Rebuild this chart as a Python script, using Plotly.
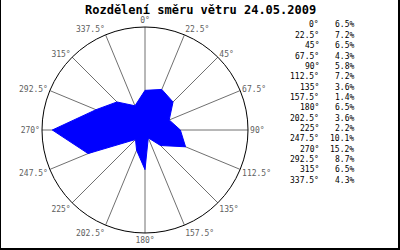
import plotly.graph_objects as go

directions = [0, 22.5, 45, 67.5, 90, 112.5, 135, 157.5, 180, 202.5, 225, 247.5, 270, 292.5, 315, 337.5]
dir_labels = ["0°", "22.5°", "45°", "67.5°", "90°", "112.5°", "135°", "157.5°",
              "180°", "202.5°", "225°", "247.5°", "270°", "292.5°", "315°", "337.5°"]
percent = [6.5, 7.2, 6.5, 4.3, 5.8, 7.2, 3.6, 1.4, 6.5, 3.6, 2.2, 10.1, 15.2, 8.7, 6.5, 4.3]
title_text = "Rozdělení směru větru 24.05.2009"

W, H = 400, 250
mono = "DejaVu Sans Mono"

fig = go.Figure()
fig.add_trace(go.Scatterpolar(
    r=percent + percent[:1],
    theta=directions + directions[:1],
    mode="lines",
    fill="toself",
    fillcolor="#0000ff",
    line=dict(color="#0000ff", width=1),
    hoverinfo="skip",
    showlegend=False,
))

cx, cy, R = 145, 130, 103
fig.update_layout(
    width=W, height=H,
    margin=dict(l=0, r=0, t=0, b=0),
    paper_bgcolor="white",
    plot_bgcolor="white",
    showlegend=False,
    polar=dict(
        domain=dict(x=[(cx - R) / W, (cx + R) / W], y=[(H - cy - R) / H, (H - cy + R) / H]),
        bgcolor="white",
        radialaxis=dict(range=[0, max(percent) / 0.9], visible=False),
        angularaxis=dict(
            direction="clockwise", rotation=90, thetaunit="degrees",
            tickmode="array", tickvals=directions, ticktext=dir_labels,
            showline=True, linecolor="black", linewidth=1,
            showgrid=True, gridcolor="#707070", gridwidth=1,
            ticks="", tickfont=dict(family=mono, size=8, color="#606060"),
        ),
    ),
)

annotations = [dict(
    text="<b>" + title_text + "</b>", x=200 / W, y=1 - 10 / H, xref="paper", yref="paper",
    xanchor="center", yanchor="middle", showarrow=False,
    font=dict(family=mono, size=12, color="black"),
)]
for i, (lab, p) in enumerate(zip(dir_labels, percent)):
    ypx = 25 + i * 10.35
    annotations.append(dict(text=lab, x=321 / W, y=1 - ypx / H, xref="paper", yref="paper",
                            xanchor="right", yanchor="middle", showarrow=False,
                            font=dict(family=mono, size=8, color="black")))
    annotations.append(dict(text=f"{p}%", x=356 / W, y=1 - ypx / H, xref="paper", yref="paper",
                            xanchor="right", yanchor="middle", showarrow=False,
                            font=dict(family=mono, size=8, color="black")))
fig.update_layout(annotations=annotations)

fig.update_layout(shapes=[
    dict(type="line", xref="paper", yref="paper", x0=0.5 / W, x1=0.5 / W, y0=0, y1=1,
         line=dict(color="black", width=1)),
    dict(type="line", xref="paper", yref="paper", x0=399 / W, x1=399 / W, y0=0, y1=1,
         line=dict(color="black", width=2)),
    dict(type="line", xref="paper", yref="paper", x0=0, x1=1, y0=1 / H, y1=1 / H,
         line=dict(color="black", width=2)),
])

fig.write_html("out.html")
